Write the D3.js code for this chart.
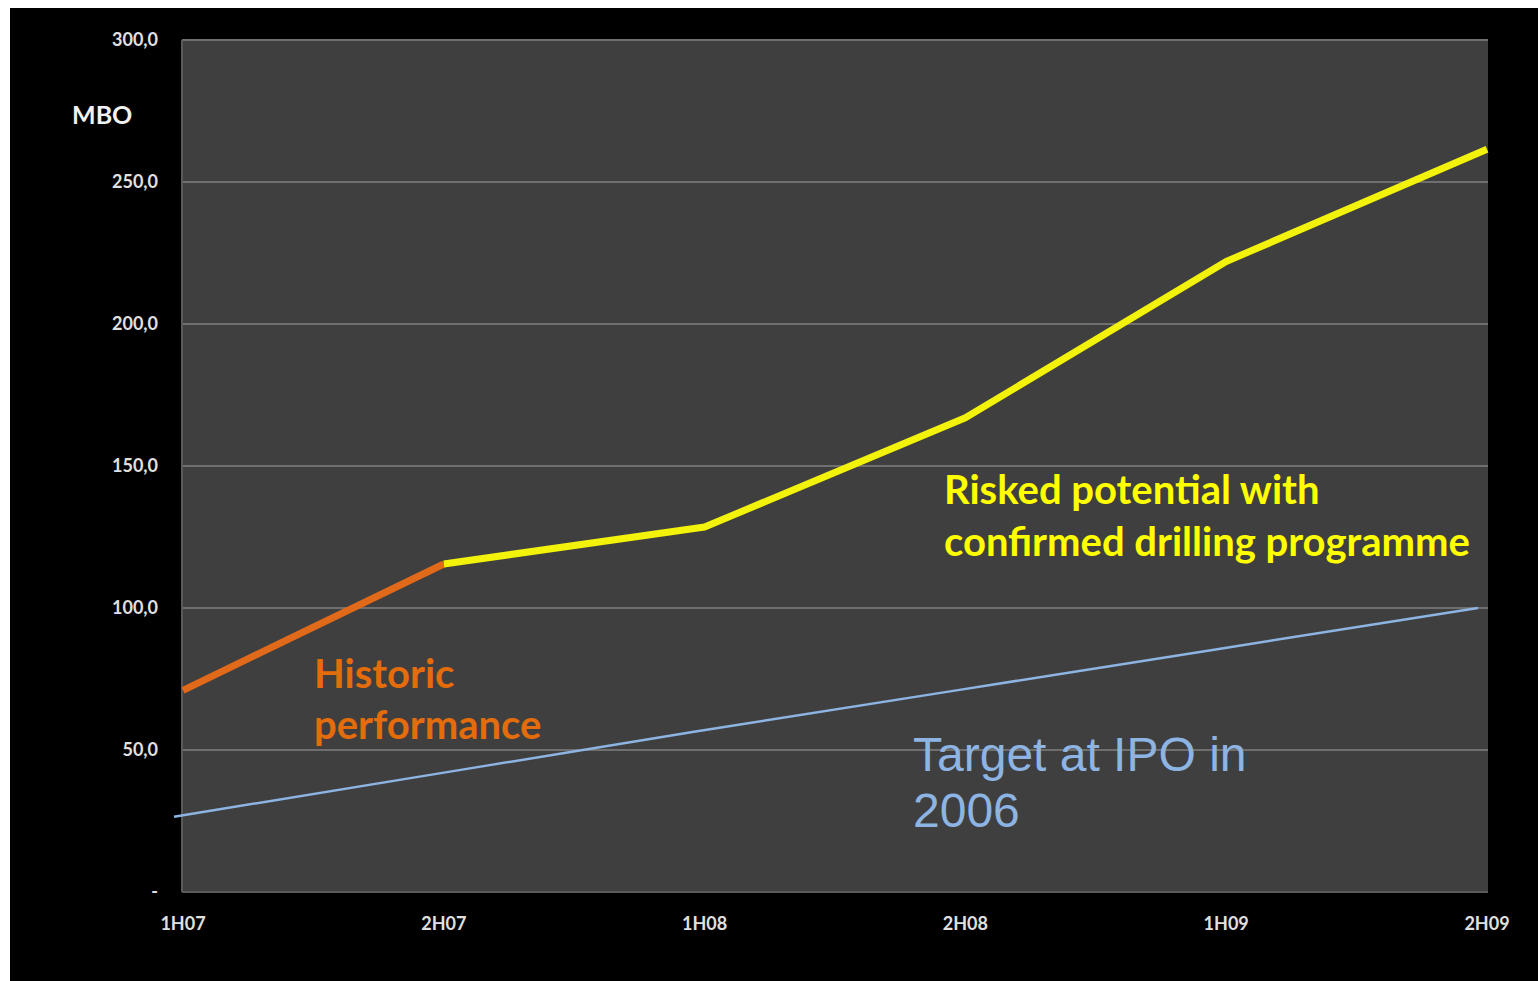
<!DOCTYPE html>
<html>
<head>
<meta charset="utf-8">
<script src="https://cdn.jsdelivr.net/npm/d3@7"></script>
<style>
  html, body { margin: 0; padding: 0; background: #fff; }
  svg { display: block; }
</style>
</head>
<body>
<div class="wrapper"></div>
<script>
const width = 1538;
const height = 981;

// chart values
const periods = ["1H07", "2H07", "1H08", "2H08", "1H09", "2H09"];
const yTicks = [0, 50, 100, 150, 200, 250, 300];
const historic = [71, 115.5];            // 1H07 .. 2H07
const risked = [115.5, 128.5, 167, 222, 261.5]; // 2H07 .. 2H09
const target = [26.5, 41.5, 56.5, 71, 85.5, 100]; // 1H07 .. 2H09

const margin = { top: 40, right: 50, bottom: 89, left: 182 };

const svg = d3
  .select(".wrapper")
  .append("svg")
  .attr("width", width)
  .attr("height", height)
  .attr("viewBox", [0, 0, width, height]);

// black slide background
svg.append("rect")
  .attr("x", 10).attr("y", 8)
  .attr("width", width - 10).attr("height", height - 8)
  .attr("fill", "#000");

const x = d3.scalePoint()
  .domain(periods)
  .range([margin.left + 1, width - margin.right - 1]);

const y = d3.scaleLinear()
  .domain([0, 300])
  .range([height - margin.bottom, margin.top]);

// plot area
svg.append("rect")
  .attr("x", margin.left)
  .attr("y", margin.top)
  .attr("width", width - margin.left - margin.right)
  .attr("height", height - margin.top - margin.bottom)
  .attr("fill", "#3f3f3f");

// gridlines
svg.append("g")
  .selectAll("line")
  .data(yTicks)
  .join("line")
  .attr("x1", margin.left)
  .attr("x2", width - margin.right)
  .attr("y1", (d) => y(d))
  .attr("y2", (d) => y(d))
  .attr("stroke", (d) => (d === 0 ? "#5a5a5a" : "#6f6f6f"))
  .attr("stroke-width", 2);

// left edge of plot area
svg.append("line")
  .attr("x1", margin.left).attr("x2", margin.left)
  .attr("y1", margin.top).attr("y2", height - margin.bottom)
  .attr("stroke", "#5a5a5a")
  .attr("stroke-width", 2);

// y axis labels
const fmt = (d) => (d === 0 ? "-" : d3.format(".1f")(d).replace(".", ","));
svg.append("g")
  .selectAll("text")
  .data(yTicks)
  .join("text")
  .attr("x", 158)
  .attr("y", (d) => y(d))
  .attr("dy", "0.35em")
  .attr("text-anchor", "end")
  .attr("font-family", "Lato, sans-serif")
  .attr("font-weight", "bold")
  .attr("font-size", 18)
  .attr("fill", "#e0e0e0")
  .text(fmt);

// x axis labels
svg.append("g")
  .selectAll("text")
  .data(periods)
  .join("text")
  .attr("x", (d) => x(d))
  .attr("y", 924)
  .attr("dy", "0.35em")
  .attr("text-anchor", "middle")
  .attr("font-family", "Lato, sans-serif")
  .attr("font-weight", "bold")
  .attr("font-size", 18)
  .attr("fill", "#e0e0e0")
  .text((d) => d);

// unit label
svg.append("text")
  .attr("x", 72)
  .attr("y", 115)
  .attr("dy", "0.35em")
  .attr("font-family", "Lato, sans-serif")
  .attr("font-weight", "bold")
  .attr("font-size", 25)
  .attr("fill", "#f2f2f2")
  .text("MBO");

const line = d3.line().x((d) => x(d.p)).y((d) => y(d.v));

// target at IPO (thin blue)
svg.append("path")
  .datum(target.map((v, i) => ({ p: periods[i], v })))
  .attr("d", line)
  .attr("transform", "translate(-9,0)")
  .attr("fill", "none")
  .attr("stroke", "#8db4e2")
  .attr("stroke-width", 2.5);

// historic (orange)
svg.append("path")
  .datum(historic.map((v, i) => ({ p: periods[i], v })))
  .attr("d", line)
  .attr("fill", "none")
  .attr("stroke", "#e0691a")
  .attr("stroke-width", 7)
  .attr("stroke-linejoin", "round");

// risked potential (yellow)
svg.append("path")
  .datum(risked.map((v, i) => ({ p: periods[i + 1], v })))
  .attr("d", line)
  .attr("fill", "none")
  .attr("stroke", "#f2f20a")
  .attr("stroke-width", 7)
  .attr("stroke-linejoin", "round");

// annotations
const note = (lines, px, py, lh, color, family, weight, size) => {
  const t = svg.append("text")
    .attr("font-family", family)
    .attr("font-weight", weight)
    .attr("font-size", size)
    .attr("fill", color);
  lines.forEach((s, i) => {
    t.append("tspan").attr("x", px).attr("y", py + i * lh).text(s);
  });
};

note(["Historic", "performance"], 314, 688, 51, "#e46c0a", "Lato, sans-serif", "bold", 40);
note(["Risked potential with", "confirmed drilling programme"], 944, 504, 52, "#ffff00", "Lato, sans-serif", "bold", 40);
note(["Target at IPO in", "2006"], 913, 771, 56, "#8db4e2", "Liberation Sans, Arial, sans-serif", "normal", 48);
</script>
</body>
</html>
